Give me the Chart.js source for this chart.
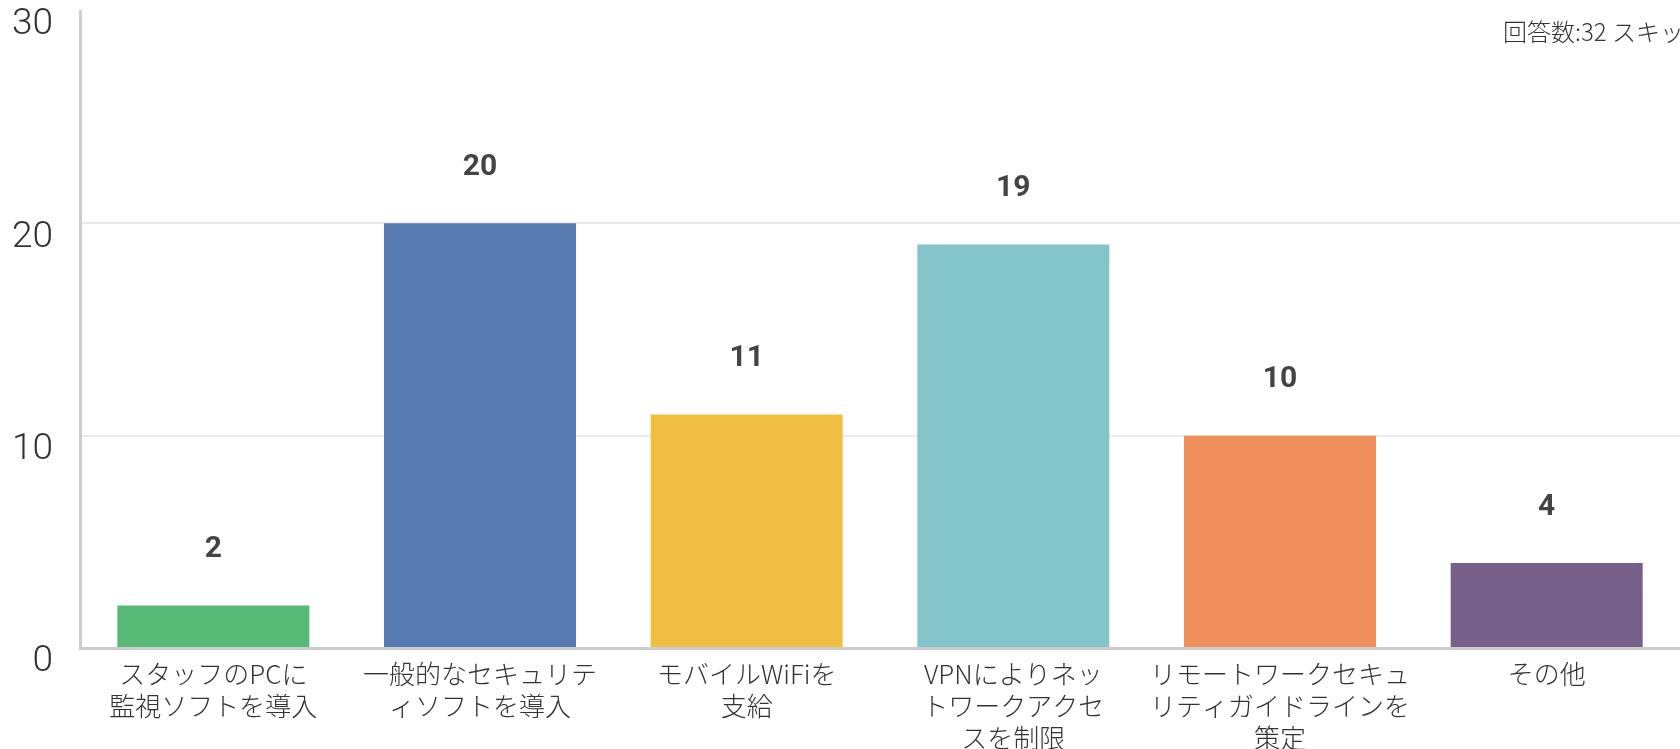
<!DOCTYPE html>
<html>
<head>
<meta charset="utf-8">
<script src="https://cdn.jsdelivr.net/npm/chart.js@4"></script>
<style>
  html, body { margin: 0; padding: 0; background: #fff; }
  #wrap { width: 1680px; height: 749px; position: relative; }
</style>
</head>
<body>
<div id="wrap"><canvas id="grafica"></canvas></div>
<script>
// datos
var categorias = [
    ["スタッフのPCに", "監視ソフトを導入"],
    ["一般的なセキュリテ", "ィソフトを導入"],
    ["モバイルWiFiを", "支給"],
    ["VPNによりネッ", "トワークアクセ", "スを制限"],
    ["リモートワークセキュ", "リティガイドラインを", "策定"],
    ["その他"]
];
var valores = [2, 20, 11, 19, 10, 4];
var colores = ["#58BA77", "#587BB1", "#F0BE42", "#83C4CA", "#F08F5C", "#77618B"];
var ticksY = [0, 10, 20, 30];
var resumen = "回答数:32 スキップ数:0";

var fuenteJP = "'Noto Sans CJK JP', 'Noto Sans', sans-serif";

// etiquetas de valor encima de cada barra + texto de resumen
var pluginEtiquetas = {
    id: "etiquetas",
    afterDatasetsDraw: function(chart) {
        var ctx = chart.ctx;
        var meta = chart.getDatasetMeta(0);
        ctx.save();
        ctx.font = "bold 30px Roboto, 'Noto Sans', sans-serif";
        ctx.fillStyle = "#444";
        ctx.textAlign = "center";
        ctx.textBaseline = "middle";
        meta.data.forEach(function(bar, i) {
            ctx.fillText(String(valores[i]), bar.x, bar.y - 56);
        });
        ctx.font = "300 24px " + fuenteJP;
        ctx.fillStyle = "#333";
        ctx.textAlign = "left";
        ctx.fillText(resumen, 1503, 32);
        ctx.restore();
    }
};

var ctx = document.getElementById("grafica").getContext("2d");
var grafica = new Chart(ctx, {
    type: "bar",
    data: {
        labels: categorias,
        datasets: [{
            data: valores,
            backgroundColor: colores,
            barPercentage: 0.72,
            categoryPercentage: 1.0
        }]
    },
    options: {
        responsive: true,
        maintainAspectRatio: false,
        animation: false,
        layout: { padding: { top: 11, right: 0, left: 0, bottom: 0 } },
        plugins: {
            legend: { display: false },
            tooltip: { enabled: false }
        },
        scales: {
            x: {
                grid: { display: false, drawTicks: false },
                border: { color: "#cccccc", width: 3 },
                ticks: {
                    color: "#333",
                    font: { family: fuenteJP, size: 26, weight: "300", lineHeight: 1.23 },
                    padding: 10,
                    maxRotation: 0,
                    autoSkip: false
                },
                afterFit: function(scale) {
                    scale.height = 101;
                    scale.paddingLeft = 0;
                    scale.paddingRight = 0;
                }
            },
            y: {
                min: 0,
                max: 30,
                afterBuildTicks: function(scale) {
                    scale.ticks = ticksY.map(function(v) { return { value: v }; });
                },
                grid: {
                    color: function(c) {
                        return (c.tick && c.tick.value === 30) ? "rgba(0,0,0,0)" : "#ebebeb";
                    },
                    lineWidth: 2,
                    drawTicks: false
                },
                border: { color: "#cccccc", width: 3 },
                ticks: {
                    color: "#333",
                    font: { family: "Roboto, 'Noto Sans', sans-serif", size: 37, weight: "300" },
                    padding: 27,
                    labelOffset: 14
                },
                afterFit: function(scale) {
                    scale.width = 80;
                    scale.paddingTop = 0;
                    scale.paddingBottom = 0;
                }
            }
        }
    },
    plugins: [pluginEtiquetas]
});
</script>
</body>
</html>
